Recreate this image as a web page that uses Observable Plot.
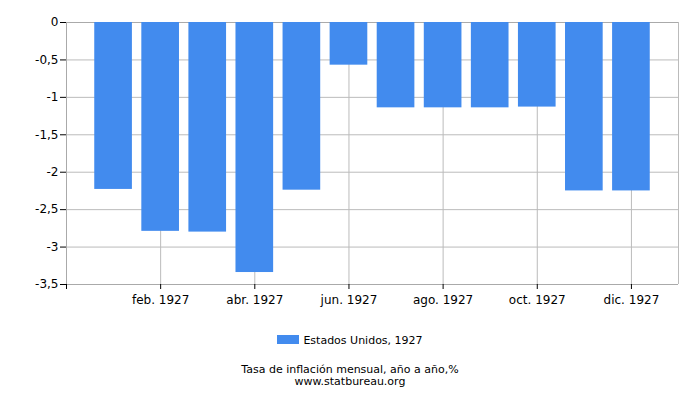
<!DOCTYPE html>
<html><head><meta charset="utf-8">
<script src="https://cdn.jsdelivr.net/npm/d3@7"></script>
<script src="https://cdn.jsdelivr.net/npm/@observablehq/plot@0.6"></script>
<style>
body{margin:0;background:#fff;font-family:"DejaVu Sans",sans-serif}
#wrap{position:relative;width:700px;height:400px;background:#fff}
#wrap svg{position:absolute;left:0;top:0}
.legend{position:absolute;left:0;top:334px;width:700px;text-align:center;font-size:11px;color:#000}
.legend .sw{display:inline-block;width:22px;height:9px;background:#428BEE;vertical-align:middle;margin-right:4px;position:relative;top:-2px}
.cap{position:absolute;left:0;width:700px;text-align:center;font-size:11px;color:#000;line-height:12px}
</style></head><body><div id="wrap"></div>
<script>
const months = ["ene. 1927","feb. 1927","mar. 1927","abr. 1927","may. 1927","jun. 1927","jul. 1927","ago. 1927","sep. 1927","oct. 1927","nov. 1927","dic. 1927"];
const values = [-2.23,-2.79,-2.80,-3.34,-2.24,-0.57,-1.14,-1.14,-1.14,-1.13,-2.25,-2.25];
const yTicks = [0,-0.5,-1,-1.5,-2,-2.5,-3,-3.5];
const xTickIdx = [-1,1,3,5,7,9,11];
const seriesLabel = "Estados Unidos, 1927";
const captionLines = ["Tasa de inflación mensual, año a año,%","www.statbureau.org"];

const data = months.map((m,i)=>({i, m, v: values[i]}));
const plot = Plot.plot({
  width:700, height:310, marginLeft:66, marginRight:22, marginTop:22, marginBottom:26,
  style:{fontFamily:"DejaVu Sans, sans-serif", fontSize:"12px", color:"#000", background:"#fff", overflow:"visible"},
  x:{type:"linear", domain:[-1,12]},
  y:{domain:[-3.5,0]},
  marks:[
    Plot.gridY(yTicks,{stroke:"#bbb",strokeOpacity:1}),
    Plot.gridX(xTickIdx,{stroke:"#bbb",strokeOpacity:1}),
    Plot.ruleX([12],{stroke:"#bbb"}),
    Plot.ruleY([0],{stroke:"#aaa"}),
    Plot.rectY(data,{x1:d=>d.i-0.4,x2:d=>d.i+0.4,y1:0,y2:"v",fill:"#428BEE"}),
    Plot.ruleX([-1],{stroke:"#aaa"}),
    Plot.ruleY([-3.5],{stroke:"#aaa"}),
    Plot.axisY(yTicks,{tickFormat:d=>String(d).replace(".",","), tickSize:6, tickPadding:2, stroke:"#000", label:null}),
    Plot.axisX(xTickIdx,{tickFormat:i=>i<0?"":months[i], tickSize:5, tickPadding:6, stroke:"#000", label:null}),
  ]
});
const wrap = document.getElementById("wrap");
wrap.appendChild(plot);
const lg = document.createElement("div");
lg.className="legend";
lg.innerHTML = '<span class="sw"></span>' + seriesLabel;
wrap.appendChild(lg);
captionLines.forEach((t,k)=>{
  const c=document.createElement("div");
  c.className="cap";
  c.style.top=(364+k*12)+"px";
  c.textContent=t;
  wrap.appendChild(c);
});
</script></body></html>
